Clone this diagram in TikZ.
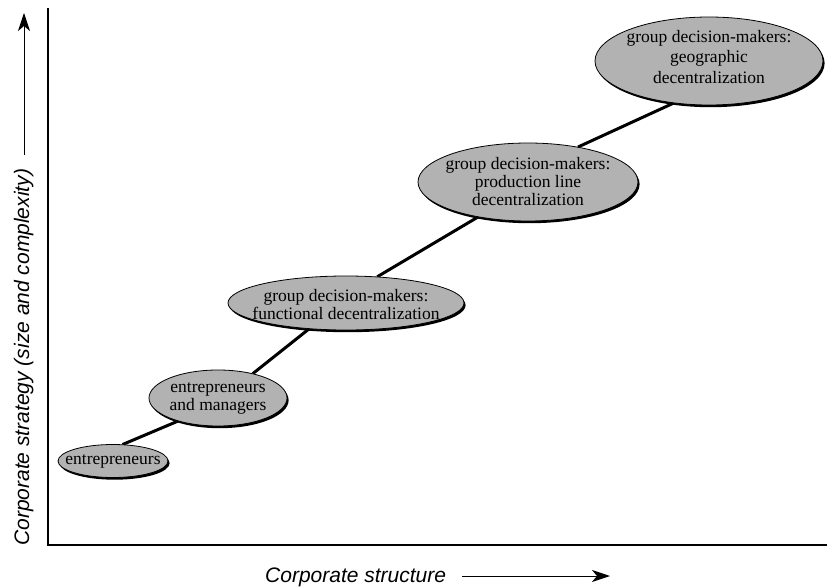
\documentclass[tikz,border=0pt]{standalone}
\usepackage{fontspec}
\setsansfont{Liberation Sans}
\newfontfamily\bubblefont{Liberation Serif}
\usetikzlibrary{shapes.geometric,shadows,arrows.meta}
\tikzset{
  bubble/.style={ellipse, draw=black, line width=0.8pt, fill=black!30, inner sep=0pt,
    drop shadow={shadow xshift=1.6pt, shadow yshift=-2.2pt, fill=black, opacity=1}},
  btext/.style={align=center, inner sep=0pt, font=\bubblefont\fontsize{17.5}{18}\selectfont},
  axis/.style={line width=1.6pt},
  axlabel/.style={font=\sffamily\itshape\fontsize{21}{23}\selectfont, inner sep=0pt},
  axarrow/.style={line width=1pt, -{Stealth[length=18pt,width=12pt,inset=5pt]}},
  spine/.style={line width=3pt}
}
\begin{document}
\begin{tikzpicture}[x=1pt,y=-1pt]
\useasboundingbox (0,0) rectangle (827,588);
% axes
\coordinate (O) at (48,545);
\coordinate (Ytop) at (48,8);
\coordinate (Xend) at (827,545);
\draw[axis] (Ytop) -- (O) -- (Xend);
% ellipse outlines (placed first to route the spine)
\path (113,461) coordinate (c1) (218,398) coordinate (c2) (346,303) coordinate (c3)
      (528,182) coordinate (c4) (709,61) coordinate (c5);
\node[ellipse, minimum width=110pt, minimum height=33pt] (e1) at (c1) {};
\node[ellipse, minimum width=138pt, minimum height=56pt] (e2) at (c2) {};
\node[ellipse, minimum width=236pt, minimum height=54pt] (e3) at (c3) {};
\node[ellipse, minimum width=220pt, minimum height=78pt] (e4) at (c4) {};
\node[ellipse, minimum width=228pt, minimum height=88pt] (e5) at (c5) {};
\draw[spine] (e1.60) -- (e2.210);
\draw[spine] (e2.35) -- (e3.215);
\draw[spine] (e3.40) -- (e4.215);
\draw[spine] (e4.35) -- (e5.230);
% bubbles on top
\node[bubble, minimum width=110pt, minimum height=33pt] (b1) at (c1) {};
\node[bubble, minimum width=138pt, minimum height=56pt] (b2) at (c2) {};
\node[bubble, minimum width=236pt, minimum height=54pt] (b3) at (c3) {};
\node[bubble, minimum width=220pt, minimum height=78pt] (b4) at (c4) {};
\node[bubble, minimum width=228pt, minimum height=88pt] (b5) at (c5) {};
\node[btext] (t1) at (c1) {entrepreneurs};
\node[btext] (t2) at (c2) {entrepreneurs\\and managers};
\node[btext] (t3) at ([yshift=-2pt]c3) {group decision-makers:\\functional decentralization};
\node[btext] (t4) at (c4) {group decision-makers:\\production line\\decentralization};
\node[btext, font=\bubblefont\fontsize{17.5}{20.5}\selectfont] (t5) at ([yshift=4pt]c5) {group decision-makers:\\geographic\\decentralization};
% axis labels
\node[axlabel, rotate=90, anchor=base west] (ylab) at (29,546) {Corporate strategy (size and complexity)};
\coordinate (ya1) at (24,155);
\coordinate (ya2) at (24,13);
\draw[axarrow] (ya1) -- (ya2);
\node[axlabel, anchor=base west] (xlab) at (265,582) {Corporate structure};
\coordinate (xa1) at (462,576);
\coordinate (xa2) at (610,576);
\draw[axarrow] (xa1) -- (xa2);
\end{tikzpicture}
\end{document}
